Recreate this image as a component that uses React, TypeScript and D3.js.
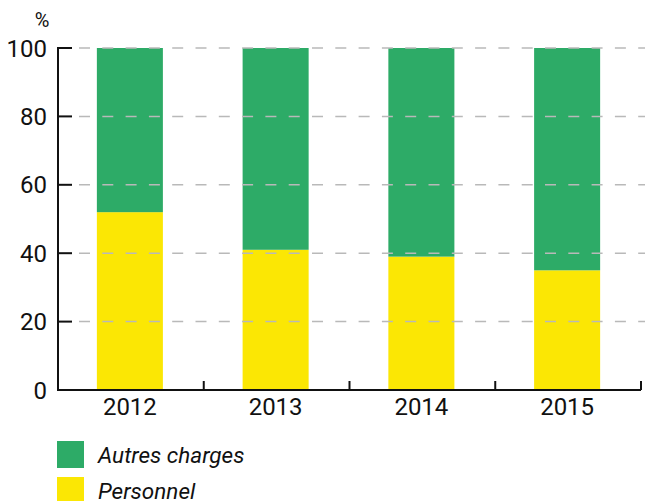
import React, { useEffect, useRef } from "react";
import * as d3 from "d3";

const years = ["2012", "2013", "2014", "2015"];
const personnel = [52, 41, 39, 35];
const autres = [48, 59, 61, 65];
const yTicks = [0, 20, 40, 60, 80, 100];
const seriesNames = ["Autres charges", "Personnel"];
const seriesColors = ["#2dab67", "#fbe704"];

const App = () => {
  const ref = useRef<SVGSVGElement>(null);

  useEffect(() => {
    const width = 645;
    const height = 501;
    const margin = { top: 48, right: 4, bottom: 111, left: 58 };
    const font = "Roboto, sans-serif";

    const svg = d3.select(ref.current);
    svg.selectAll("*").remove();

    const x = d3.scaleBand()
      .domain(years)
      .range([margin.left, width - margin.right])
      .padding(0);

    const y = d3.scaleLinear()
      .domain([0, 100])
      .range([height - margin.bottom, margin.top]);

    const barW = x.bandwidth() * 0.453;

    const rows = years.map((yr, i) => ({ year: yr, Personnel: personnel[i], "Autres charges": autres[i] }));
    const stack = d3.stack<any>().keys(["Personnel", "Autres charges"])(rows);

    // bars
    stack.forEach(layer => {
      const color = layer.key === "Personnel" ? seriesColors[1] : seriesColors[0];
      svg.append("g")
        .attr("fill", color)
        .selectAll("rect")
        .data(layer)
        .enter().append("rect")
        .attr("x", d => x(d.data.year)! + x.bandwidth() / 2 - barW / 2 - 1)
        .attr("y", d => y(d[1]))
        .attr("width", barW)
        .attr("height", d => y(d[0]) - y(d[1]));
    });

    // dashed grid, drawn over bars
    svg.append("g")
      .selectAll("line")
      .data(yTicks.filter(t => t > 0))
      .enter().append("line")
      .attr("x1", margin.left + 21)
      .attr("x2", width)
      .attr("y1", d => y(d))
      .attr("y2", d => y(d))
      .attr("stroke", "#b9b9b9")
      .attr("stroke-width", 1.5)
      .attr("stroke-dasharray", "11 12.3");

    // y axis
    const yAxis = svg.append("g");
    yAxis.append("line")
      .attr("x1", margin.left).attr("x2", margin.left)
      .attr("y1", y(100)).attr("y2", y(0))
      .attr("stroke", "#111").attr("stroke-width", 2);
    yAxis.selectAll("line.tick")
      .data(yTicks)
      .enter().append("line")
      .attr("class", "tick")
      .attr("x1", margin.left - 1).attr("x2", margin.left + 14)
      .attr("y1", d => y(d)).attr("y2", d => y(d))
      .attr("stroke", "#111").attr("stroke-width", 2);
    yAxis.selectAll("text")
      .data(yTicks)
      .enter().append("text")
      .attr("x", margin.left - 11)
      .attr("y", d => y(d))
      .attr("dy", "0.36em")
      .attr("text-anchor", "end")
      .attr("font-family", font)
      .attr("font-size", 24)
      .attr("fill", "#111")
      .text(d => d);

    svg.append("text")
      .attr("x", 42).attr("y", 27)
      .attr("text-anchor", "middle")
      .attr("font-family", font)
      .attr("font-size", 20)
      .attr("fill", "#111")
      .text("%");

    // x axis
    const xAxis = svg.append("g");
    xAxis.append("line")
      .attr("x1", margin.left - 1).attr("x2", width - margin.right)
      .attr("y1", y(0)).attr("y2", y(0))
      .attr("stroke", "#111").attr("stroke-width", 2);
    xAxis.selectAll("line.tick")
      .data(years)
      .enter().append("line")
      .attr("class", "tick")
      .attr("x1", d => x(d)! + x.bandwidth())
      .attr("x2", d => x(d)! + x.bandwidth())
      .attr("y1", y(0)).attr("y2", y(0) - 9)
      .attr("stroke", "#111").attr("stroke-width", 2);
    xAxis.selectAll("text")
      .data(years)
      .enter().append("text")
      .attr("x", d => x(d)! + x.bandwidth() / 2 - 1)
      .attr("y", y(0) + 25)
      .attr("text-anchor", "middle")
      .attr("font-family", font)
      .attr("font-size", 24)
      .attr("fill", "#111")
      .text(d => d);

    // legend
    const legend = svg.append("g")
      .selectAll("g")
      .data(seriesNames)
      .enter().append("g")
      .attr("transform", (d, i) => `translate(57,${441 + i * 36})`);
    legend.append("rect")
      .attr("width", 27).attr("height", 27)
      .attr("fill", (d, i) => seriesColors[i]);
    legend.append("text")
      .attr("x", 41).attr("y", 22)
      .attr("font-family", font)
      .attr("font-style", "italic")
      .attr("font-size", 22.5)
      .attr("fill", "#111")
      .text(d => d);
  }, []);

  return (
    <svg ref={ref} width={645} height={501}
      style={{ position: "absolute", left: 0, top: 0, background: "#fff" }} />
  );
};

export default App;
